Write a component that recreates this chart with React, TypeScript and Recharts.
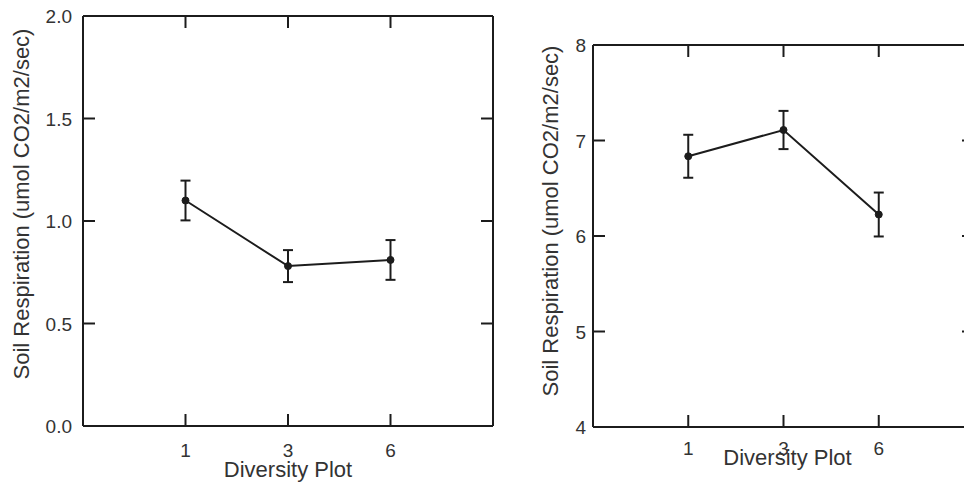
import React from 'react';
import { LineChart, Line, XAxis, YAxis, ErrorBar, ReferenceLine } from 'recharts';

const plotLabels = ['1', '3', '6'];
const leftMeans = [1.1, 0.78, 0.81];
const leftErrors = [0.097, 0.078, 0.097];
const rightMeans = [6.835, 7.11, 6.225];
const rightErrors = [0.225, 0.2, 0.23];
const leftTicks = [0, 0.5, 1.0, 1.5, 2.0];
const rightTicks = [4, 5, 6, 7, 8];
const xTitle = 'Diversity Plot';
const yTitle = 'Soil Respiration (umol CO2/m2/sec)';

const INK = '#1c1c1c';
const TEXT = '#333333';
const FONT = '"Liberation Sans", Arial, sans-serif';
const TICK_LEN = 12;

type PanelProps = {
  means: number[];
  errors: number[];
  yTicks: number[];
  fmt: (v: number) => string;
  width: number;
  height: number;
  margin: { top: number; right: number; bottom: number; left: number };
  yAxisWidth: number;
  xAxisHeight: number;
  xLabelDy: number;
  yLabelGap: number;
  xTitleBaseline: number;
  xTitleShift: number;
  yTitleX: number;
  yTitleShift: number;
};

function Panel(p: PanelProps) {
  const data = plotLabels.map((label, i) => ({
    pos: i + 1,
    label,
    mean: p.means[i],
    err: p.errors[i],
  }));
  const domain: [number, number] = [p.yTicks[0], p.yTicks[p.yTicks.length - 1]];
  const xDomain: [number, number] = [0, data.length + 1];
  const xTicks = data.map((d) => d.pos);
  const plotW = p.width - p.margin.left - p.margin.right - p.yAxisWidth;
  const plotH = p.height - p.margin.top - p.margin.bottom - p.xAxisHeight;

  const bottomTick = (props: any) => {
    const { x, y, payload } = props;
    const label = plotLabels[payload.value - 1] ?? '';
    return (
      <g>
        <line x1={x} y1={y} x2={x} y2={y - TICK_LEN} stroke={INK} strokeWidth={2} />
        <line x1={x} y1={y - plotH} x2={x} y2={y - plotH + TICK_LEN} stroke={INK} strokeWidth={2} />
        <text x={x} y={y + p.xLabelDy} textAnchor="middle" fontSize={19} fontFamily={FONT} fill={TEXT}>
          {label}
        </text>
      </g>
    );
  };

  const leftTick = (props: any) => {
    const { x, y, payload } = props;
    return (
      <g>
        <line x1={x} y1={y} x2={x + TICK_LEN} y2={y} stroke={INK} strokeWidth={2} />
        <line x1={x + plotW} y1={y} x2={x + plotW - TICK_LEN} y2={y} stroke={INK} strokeWidth={2} />
        <text x={x - p.yLabelGap} y={y + 7} textAnchor="end" fontSize={19} fontFamily={FONT} fill={TEXT}>
          {p.fmt(payload.value)}
        </text>
      </g>
    );
  };

  const xTitleContent = (props: any) => {
    const vb = props.viewBox || { x: 0, y: 0, width: 0, height: 0 };
    return (
      <text
        x={vb.x + vb.width / 2 + p.xTitleShift}
        y={vb.y + p.xTitleBaseline}
        textAnchor="middle"
        fontSize={22}
        fontFamily={FONT}
        fill={TEXT}
      >
        {xTitle}
      </text>
    );
  };

  const yTitleContent = (props: any) => {
    const vb = props.viewBox || { x: 0, y: 0, width: 0, height: 0 };
    const cx = vb.x + p.yTitleX;
    const cy = vb.y + vb.height / 2 + p.yTitleShift;
    return (
      <text
        x={cx}
        y={cy}
        transform={`rotate(-90 ${cx} ${cy})`}
        textAnchor="middle"
        fontSize={22}
        fontFamily={FONT}
        fill={TEXT}
      >
        {yTitle}
      </text>
    );
  };

  return (
    <LineChart width={p.width} height={p.height} data={data} margin={p.margin}>
      <XAxis
        xAxisId="b"
        dataKey="pos"
        type="number"
        domain={xDomain}
        ticks={xTicks}
        height={p.xAxisHeight}
        tickSize={0}
        tickMargin={0}
        tickLine={false}
        tick={bottomTick}
        axisLine={{ stroke: INK, strokeWidth: 2 }}
        label={{ content: xTitleContent }}
      />
      <YAxis
        yAxisId="l"
        type="number"
        domain={domain}
        ticks={p.yTicks}
        width={p.yAxisWidth}
        tickSize={0}
        tickMargin={0}
        tickLine={false}
        tick={leftTick}
        axisLine={{ stroke: INK, strokeWidth: 2 }}
        label={{ content: yTitleContent }}
      />
      <ReferenceLine xAxisId="b" yAxisId="l" y={domain[1]} stroke={INK} strokeWidth={2} />
      <ReferenceLine xAxisId="b" yAxisId="l" x={xDomain[1]} stroke={INK} strokeWidth={2} />
      <Line
        xAxisId="b"
        yAxisId="l"
        dataKey="mean"
        type="linear"
        stroke={INK}
        strokeWidth={2}
        dot={{ r: 3.5, fill: INK, stroke: INK, strokeWidth: 1 }}
        activeDot={false}
        isAnimationActive={false}
      >
        <ErrorBar dataKey="err" direction="y" width={5} stroke={INK} strokeWidth={2} isAnimationActive={false} />
      </Line>
    </LineChart>
  );
}

export default function App() {
  return (
    <div
      style={{
        position: 'absolute',
        left: 0,
        top: 0,
        width: 964,
        height: 482,
        overflow: 'hidden',
        background: '#ffffff',
      }}
    >
      <div style={{ position: 'absolute', left: 0, top: 0 }}>
        <Panel
          means={leftMeans}
          errors={leftErrors}
          yTicks={leftTicks}
          fmt={(v) => v.toFixed(1)}
          width={500}
          height={482}
          margin={{ top: 16, right: 7, bottom: 0, left: 0 }}
          yAxisWidth={83}
          xAxisHeight={56}
          xLabelDy={31}
          yLabelGap={11}
          xTitleBaseline={51}
          xTitleShift={0}
          yTitleX={29}
          yTitleShift={-17}
        />
      </div>
      <div style={{ position: 'absolute', left: 500, top: 0 }}>
        <Panel
          means={rightMeans}
          errors={rightErrors}
          yTicks={rightTicks}
          fmt={(v) => String(v)}
          width={480}
          height={482}
          margin={{ top: 45, right: 6, bottom: 0, left: 0 }}
          yAxisWidth={93}
          xAxisHeight={55}
          xLabelDy={28}
          yLabelGap={7}
          xTitleBaseline={38}
          xTitleShift={4}
          yTitleX={58}
          yTitleShift={-15}
        />
      </div>
    </div>
  );
}
